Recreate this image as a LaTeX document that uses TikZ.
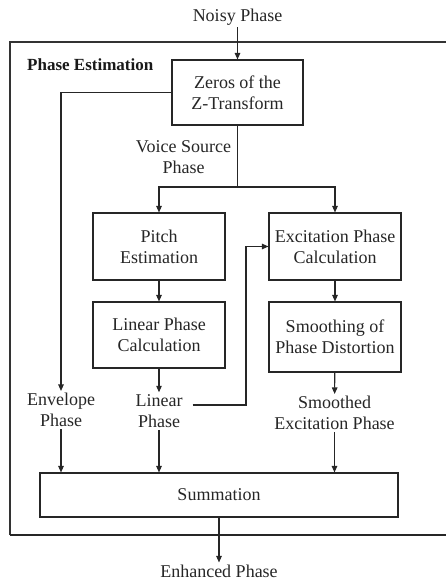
\documentclass[tikz,border=0pt]{standalone}
\usepackage{fontspec}
\setmainfont{Liberation Serif}
\usetikzlibrary{arrows.meta}
\begin{document}
\begin{tikzpicture}[x=1pt,y=-1pt,
  ink/.style={black!85},
  block/.style={draw=black!85,line width=1.1pt,rectangle,align=center,inner sep=1pt,
    font=\fontsize{18}{21}\selectfont,text=black!85},
  lbl/.style={align=center,inner sep=2pt,font=\fontsize{18}{21}\selectfont,text=black!85},
  flow/.style={draw=black!85,line width=1.1pt,-{Triangle[length=6.5pt,width=5.5pt]}},
  wire/.style={draw=black!85,line width=1.1pt}]
\useasboundingbox (0,0) rectangle (445,581);

% enclosing frame of the estimation stage
\draw[black!80,line width=1.3pt] (10,535) -- (10,42) -- (470,42);
\draw[black!85,line width=2.4pt] (9.5,535) -- (470,535);
\node[anchor=west,inner sep=2pt,font=\fontsize{17}{20}\selectfont\bfseries,text=black!90] (title) at (25,65) {Phase Estimation};

% blocks
\node[block,minimum width=131pt,minimum height=65pt] (zeros) at (237.5,92.5) {Zeros of the\\Z-Transform};
\node[block,minimum width=132pt,minimum height=67pt] (pitch) at (159,246.5) {Pitch\\Estimation};
\node[block,minimum width=132pt,minimum height=66pt] (linc) at (159,335) {Linear Phase\\Calculation};
\node[block,minimum width=132pt,minimum height=67pt] (exc) at (335,246.5) {Excitation Phase\\Calculation};
\node[block,minimum width=132pt,minimum height=70pt] (smooth) at (335,337) {Smoothing of\\Phase Distortion};
\node[block,minimum width=358pt,minimum height=44pt] (sum) at (219,495) {Summation};

% signal labels
\node[lbl] (noisy) at (237.5,17) {Noisy Phase};
\node[lbl] (voice) at (183.5,157.5) {Voice Source\\Phase};
\node[lbl] (env) at (61,410) {Envelope\\Phase};
\node[lbl] (lin) at (159,411) {Linear\\Phase};
\node[lbl] (smex) at (334.5,413) {Smoothed\\Excitation Phase};
\node[lbl] (enh) at (219,571) {Enhanced Phase};

% routing points
\coordinate (split) at (237.5,187);
\coordinate (bend) at (246,405);

% connectors
\draw[flow] (noisy) -- (zeros.north);
\draw[wire] (zeros.south) -- (split);
\draw[flow] (split) -| (pitch.north);
\draw[flow] (split) -| (exc.north);
\draw[flow] (pitch) -- (linc);
\draw[flow] (exc) -- (smooth);
\draw[flow] (linc) -- (lin);
\draw[flow] (smooth) -- (smex);
\draw[flow] (zeros.west) -| (env.north);
\draw[flow] ([xshift=8pt,yshift=6pt]lin.east) -- (bend) |- (exc.west);
\draw[flow] (env.south) -- (env.south |- sum.north);
\draw[flow] (lin.south) -- (lin.south |- sum.north);
\draw[flow] (smex.south) -- (smex.south |- sum.north);
\draw[flow] (sum.south) -- (enh.north);
\end{tikzpicture}
\end{document}
